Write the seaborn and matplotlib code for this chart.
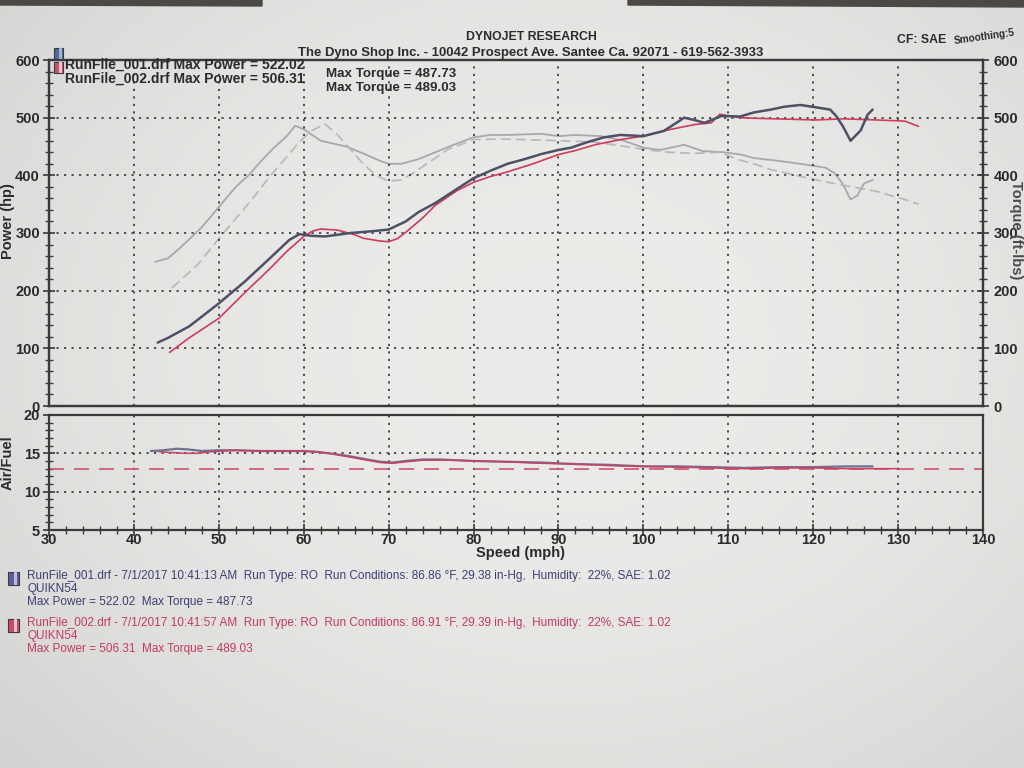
import numpy as np
import pandas as pd
import matplotlib
matplotlib.use("Agg")
import matplotlib.pyplot as plt
import seaborn as sns
from matplotlib import font_manager as fm
from matplotlib.patches import Rectangle, Polygon
from matplotlib.ticker import MultipleLocator

# ---------------- data (read from the dyno sheet) ----------------
speed_1 = [42.8, 44, 46.5, 48, 50, 53, 56, 58.3, 59.5, 61, 62.5, 65.5, 68, 70, 72, 73.5, 75.5,
           78, 80, 82, 84, 86, 88, 90, 91.5, 93.5, 95.4, 97.3, 100, 102.4, 104, 104.8, 106,
           107.2, 109.2, 111.4, 113, 115, 116.6, 118.5, 120.3, 122, 122.7, 123.5, 124.4,
           125.6, 126.4, 127]
power_1 = [110, 118, 138, 155, 178, 215, 256, 288, 298, 295, 294, 300, 303, 306, 320, 336, 352,
           376, 395, 408, 420, 428, 437, 444, 448, 458, 466, 470, 468, 477, 492, 500, 496,
           491, 503, 502, 509, 514, 519, 522, 518, 514, 503, 485, 460, 478, 505, 514]

speed_2 = [44.2, 46.5, 50, 53.3, 56, 58, 60, 61, 62, 64, 66, 67, 69, 70, 71, 72, 74, 75.5, 78,
           80, 82, 84, 87, 90, 92, 94.3, 97.3, 100, 103, 106, 108, 109, 110, 111.4, 113,
           115.4, 118, 120.3, 123.5, 127.5, 130.8, 132.4]
power_2 = [93, 118, 152, 200, 238, 268, 294, 303, 307, 305, 297, 291, 286, 285, 290, 301, 326,
           348, 373, 388, 398, 406, 420, 436, 443, 453, 462, 468, 479, 488, 491, 506, 503,
           500, 499, 498, 497, 496, 498, 496, 494, 485]

tq_speed_1 = [42.5, 44, 45.5, 48, 50, 52, 53.5, 55, 56.5, 58, 59, 60, 61, 62, 63.5, 65, 67, 69,
              70, 71.5, 73.5, 75.5, 77.5, 80, 82, 84, 86, 88, 90, 92, 95, 97.7, 100, 102,
              104.8, 107, 109.5, 111.5, 113, 116, 119.4, 121.5, 122.5, 123.5, 124.4, 125.2,
              126, 127]
torque_1 = [250, 256, 275, 310, 345, 380, 400, 425, 448, 468, 486, 480, 470, 460, 455, 450, 438,
            425, 420, 420, 428, 440, 452, 466, 470, 470, 471, 472, 468, 470, 468, 460, 448,
            444, 453, 442, 440, 436, 430, 425, 418, 413, 404, 385, 358, 365, 386, 392]

tq_speed_2 = [44.5, 46, 47.5, 50, 52, 54, 56, 58, 59.5, 61, 62.5, 64, 65.5, 67, 68.5, 70, 71.5,
              73, 75, 77, 80, 83, 86, 90, 94, 97, 100, 103, 106, 109, 111, 113, 115, 118, 120,
              123.5, 127.5, 130.8, 132.4]
torque_2 = [205, 225, 245, 290, 325, 360, 398, 432, 458, 478, 489, 470, 445, 420, 400, 390, 392,
            405, 425, 445, 462, 463, 462, 460, 458, 452, 445, 440, 438, 440, 428, 420, 410,
            400, 393, 383, 372, 358, 350]

afr_speed_1 = [42, 43.5, 45, 46.5, 48, 50, 52, 55, 58, 60, 61.5, 63, 65, 67, 69, 70.5, 72, 74,
               76, 78, 80, 84, 88, 92, 96, 100, 104, 108, 112, 116, 120, 124, 127]
afr_1 = [15.3, 15.4, 15.6, 15.5, 15.3, 15.4, 15.4, 15.3, 15.3, 15.3, 15.2, 15.0, 14.7, 14.3,
         13.9, 13.8, 14.0, 14.2, 14.2, 14.1, 14.0, 13.9, 13.8, 13.6, 13.5, 13.3, 13.3, 13.2,
         13.1, 13.2, 13.2, 13.3, 13.3]
afr_speed_2 = [43, 44.5, 46, 47.5, 49, 50.5, 52, 55, 58, 60, 61.5, 63, 65, 67, 69, 70.5, 72,
               74, 76, 78, 80, 84, 88, 92, 96, 100, 104, 108, 112, 116, 120, 124, 127, 130]
afr_2 = [15.2, 15.1, 15.0, 15.0, 15.2, 15.3, 15.4, 15.3, 15.3, 15.3, 15.2, 15.0, 14.6, 14.2,
         13.8, 13.7, 13.9, 14.1, 14.1, 14.1, 14.0, 13.9, 13.7, 13.6, 13.4, 13.3, 13.2, 13.1,
         13.0, 13.1, 13.1, 13.0, 13.0, 13.0]
afr_target = 13.0

x_ticks = [30, 40, 50, 60, 70, 80, 90, 100, 110, 120, 130, 140]
power_ticks = [0, 100, 200, 300, 400, 500, 600]
afr_ticks = [5, 10, 15, 20]

title = "DYNOJET RESEARCH"
subtitle = "The Dyno Shop Inc. - 10042 Prospect Ave. Santee Ca. 92071 - 619-562-3933"
cf_text = "CF: SAE"
smooth_text = "Smoothing:5"
legend_runs = ["RunFile_001.drf Max Power = 522.02", "RunFile_002.drf Max Power = 506.31"]
legend_torque = ["Max Torque = 487.73", "Max Torque = 489.03"]
footer_1 = ["RunFile_001.drf - 7/1/2017 10:41:13 AM  Run Type: RO  Run Conditions: 86.86 \u00b0F, 29.38 in-Hg,  Humidity:  22%, SAE: 1.02",
            "QUIKN54", "Max Power = 522.02  Max Torque = 487.73"]
footer_2 = ["RunFile_002.drf - 7/1/2017 10:41:57 AM  Run Type: RO  Run Conditions: 86.91 \u00b0F, 29.39 in-Hg,  Humidity:  22%, SAE: 1.02",
            "QUIKN54", "Max Power = 506.31  Max Torque = 489.03"]

# ---------------- style ----------------
sns.set_theme(style="white")
avail = {f.name for f in fm.fontManager.ttflist}
def pick(*names):
    for n in names:
        if n in avail:
            return n
    return "DejaVu Sans"
NARROW = pick("Liberation Sans Narrow", "Liberation Sans", "DejaVu Sans")
SANS = pick("Liberation Sans", "DejaVu Sans")
plt.rcParams["font.family"] = [SANS, "DejaVu Sans"]
IS_NARROW = NARROW != SANS
def nfs(size):
    # narrow font sizes given for a condensed face; shrink when only a regular face exists
    return size if IS_NARROW else size * 0.88

W, H = 1024, 768
fig = plt.figure(figsize=(W / 100, H / 100), dpi=100)

# paper background
bg = fig.add_axes([0, 0, 1, 1], zorder=-10)
yy, xx = np.mgrid[0:1:240j, 0:1:320j]
r2 = ((xx - 0.55) / 0.75) ** 2 + ((yy - 0.45) / 0.8) ** 2
val = np.clip(0.925 - 0.10 * r2, 0, 1)
bg.imshow(np.dstack([val, val, val * 0.99]), extent=[0, 1, 0, 1], aspect="auto", origin="upper")
bg.add_patch(Polygon([[0, 1], [262 / W, 1], [262 / W, 1 - 6 / H], [0, 1 - 5 / H]], closed=True,
                     color="#4d4843", transform=bg.transAxes))
bg.add_patch(Polygon([[628 / W, 1], [1, 1], [1, 1 - 7 / H], [628 / W, 1 - 5 / H]], closed=True,
                     color="#4d4843", transform=bg.transAxes))
bg.set_xlim(0, 1); bg.set_ylim(0, 1)
bg.axis("off")

def fx(px):
    return px / W

L, R = 49, 983
TOP1, BOT1 = 60, 406
TOP2, BOT2 = 415, 530
ax1 = fig.add_axes([fx(L), 1 - BOT1 / H, (R - L) / W, (BOT1 - TOP1) / H])
ax2 = fig.add_axes([fx(L), 1 - BOT2 / H, (R - L) / W, (BOT2 - TOP2) / H])
ax1r = ax1.twinx()

SPINE = "#3a3a3a"
GRID = "#333333"
TICKC = "#2a2a2a"
for a in (ax1, ax2, ax1r):
    a.set_facecolor("none")
    for s in a.spines.values():
        s.set_color(SPINE)
        s.set_linewidth(1.6)

# ---------------- marks ----------------
sns.lineplot(x=tq_speed_1, y=torque_1, ax=ax1r, color="#a9a9ab", lw=1.3, estimator=None, sort=False)
sns.lineplot(x=tq_speed_2, y=torque_2, ax=ax1r, color="#bab6b7", lw=1.2, estimator=None, sort=False,
             linestyle=(0, (6, 3)))
sns.lineplot(x=speed_2, y=power_2, ax=ax1, color="#d13b5b", lw=1.2, estimator=None, sort=False)
sns.lineplot(x=speed_1, y=power_1, ax=ax1, color="#4d5166", lw=1.8, estimator=None, sort=False)
ax1r.set_zorder(ax1.get_zorder() - 1)

ax2.axhline(afr_target, color="#cf5273", lw=1.2, ls=(0, (9, 6)))
sns.lineplot(x=afr_speed_1, y=afr_1, ax=ax2, color="#6e7190", lw=1.6, estimator=None, sort=False)
sns.lineplot(x=afr_speed_2, y=afr_2, ax=ax2, color="#cc4060", lw=1.1, estimator=None, sort=False)

# ---------------- axes ----------------
for a in (ax1, ax1r, ax2):
    a.set_xlim(30, 140)
    a.set_xlabel("")
    a.set_ylabel("")
ax1.set_ylim(0, 600)
ax1r.set_ylim(0, 600)
ax2.set_ylim(5, 20)

dots = (0, (1.3, 3.2))
ax1.set_xticks(x_ticks)
ax1.set_yticks(power_ticks)
ax1.yaxis.set_minor_locator(MultipleLocator(20))
ax1.grid(True, which="major", color=GRID, ls=dots, lw=1.2)
ax1.tick_params(axis="x", length=0, labelbottom=False)
ax1.tick_params(axis="y", which="major", direction="inout", length=9, width=1.2, color=SPINE,
                labelsize=10.5, labelcolor=TICKC, pad=2)
ax1.tick_params(axis="y", which="minor", direction="inout", length=6, width=1.0, color=SPINE, left=True)

ax1r.set_yticks(power_ticks)
ax1r.yaxis.set_minor_locator(MultipleLocator(20))
ax1r.grid(False)
ax1r.tick_params(axis="y", which="major", direction="inout", length=9, width=1.2, color=SPINE,
                 labelsize=10.5, labelcolor=TICKC, pad=3)
ax1r.tick_params(axis="y", which="minor", direction="inout", length=6, width=1.0, color=SPINE, right=True)

ax2.set_xticks(x_ticks)
ax2.xaxis.set_minor_locator(MultipleLocator(2))
ax2.set_yticks(afr_ticks)
ax2.yaxis.set_minor_locator(MultipleLocator(1))
ax2.grid(True, which="major", color=GRID, ls=dots, lw=1.2)
ax2.tick_params(axis="y", which="major", direction="inout", length=9, width=1.2, color=SPINE,
                labelsize=10.5, labelcolor=TICKC, pad=2, left=True)
ax2.tick_params(axis="x", which="major", direction="inout", length=9, width=1.2, color=SPINE,
                labelsize=10.5, labelcolor=TICKC, pad=-2, bottom=True)
ax2.tick_params(axis="both", which="minor", direction="inout", length=6, width=1.0, color=SPINE,
                bottom=True, left=True)

for a in (ax1, ax1r, ax2):
    for lab in a.get_xticklabels() + a.get_yticklabels():
        lab.set_fontweight("bold")

# ---------------- texts ----------------
def T(px, py, s, **kw):
    kw.setdefault("va", "center")
    return fig.text(px / W, 1 - py / H, s, **kw)

BOLD = dict(fontweight="bold", color="#2b2b2b")
NF = [NARROW, "DejaVu Sans"]
T(531, 37, title, ha="center", fontsize=nfs(10), family=NF, **BOLD)
T(531, 53, subtitle, ha="center", fontsize=nfs(10.7), family=NF, **BOLD)
T(897, 40, cf_text, ha="left", fontsize=nfs(10), family=NF, **BOLD)
T(953, 37, smooth_text, ha="left", fontsize=nfs(8.2), family=NF, rotation=8, **BOLD)

T(65, 65, legend_runs[0], ha="left", fontsize=nfs(11.4), family=NF, **BOLD)
T(65, 79, legend_runs[1], ha="left", fontsize=nfs(11.4), family=NF, **BOLD)
T(326, 74, legend_torque[0], ha="left", fontsize=nfs(11), family=NF, **BOLD)
T(326, 88, legend_torque[1], ha="left", fontsize=nfs(11), family=NF, **BOLD)

def icon(px, py, w, h, col, light):
    fig.add_artist(Rectangle((px / W, 1 - (py + h) / H), w / W, h / H, transform=fig.transFigure,
                             facecolor=col, edgecolor="#3a3a3a", lw=0.8))
    fig.add_artist(Rectangle(((px + w * 0.55) / W, 1 - (py + h) / H), w * 0.3 / W, h / H,
                             transform=fig.transFigure, facecolor=light, edgecolor="none"))

icon(54, 48, 9, 11, "#4f6a9a", "#9fb0d0")
icon(54, 62, 9, 11, "#d0506a", "#f0c0cc")

T(8, 221, "Power (hp)", ha="center", rotation=90, fontsize=10.5, **BOLD)
T(1016, 230, "Torque (ft-lbs)", ha="center", rotation=270, fontsize=10.5, color="#4a4a4a",
  fontweight="bold")
T(8, 463, "Air/Fuel", ha="center", rotation=90, fontsize=10.5, **BOLD)
T(521, 553, "Speed (mph)", ha="center", fontsize=10.5, **BOLD)

BLUE_T = "#3c4075"
RED_T = "#c63a5d"
FS = 9.5 if IS_NARROW else 8.5
icon(8, 572, 11, 13, "#5c5f96", "#b8bae0")
icon(8, 619, 11, 13, "#d04868", "#f2c2cf")
for s, py in zip(footer_1, [576, 589, 602]):
    T(27, py, s, ha="left", fontsize=FS, color=BLUE_T, family=NF)
for s, py in zip(footer_2, [623, 636, 649]):
    T(27, py, s, ha="left", fontsize=FS, color=RED_T, family=NF)

fig.savefig("out.png", dpi=100)
